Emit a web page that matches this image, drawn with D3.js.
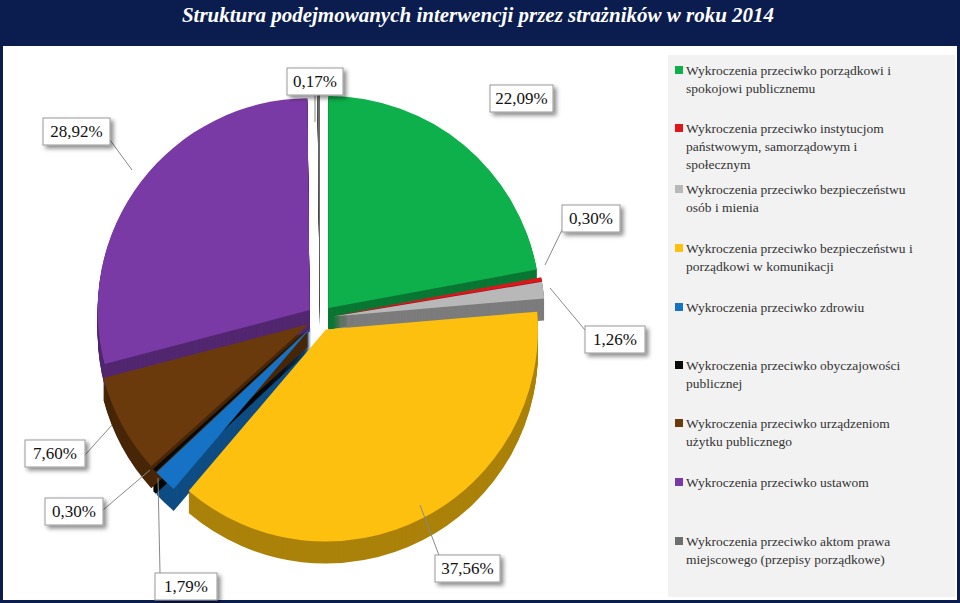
<!DOCTYPE html>
<html><head><meta charset="utf-8">
<script src="https://cdn.jsdelivr.net/npm/d3@7"></script>
<style>body{margin:0;background:#0b1d4f}</style>
</head><body>
<script>
// data
var categories = [
  "Wykroczenia przeciwko porządkowi i|spokojowi publicznemu",
  "Wykroczenia przeciwko instytucjom|państwowym, samorządowym i|społecznym",
  "Wykroczenia przeciwko bezpieczeństwu|osób i mienia",
  "Wykroczenia przeciwko bezpieczeństwu i|porządkowi w komunikacji",
  "Wykroczenia przeciwko zdrowiu",
  "Wykroczenia przeciwko obyczajowości|publicznej",
  "Wykroczenia przeciwko urządzeniom|użytku publicznego",
  "Wykroczenia przeciwko ustawom",
  "Wykroczenia przeciwko aktom prawa|miejscowego (przepisy porządkowe)"
];
var values = [22.09, 0.30, 1.26, 37.56, 1.79, 0.30, 7.60, 28.92, 0.17];
var labels = ["22,09%", "0,30%", "1,26%", "37,56%", "1,79%", "0,30%", "7,60%", "28,92%", "0,17%"];
var colors = ["#0db04b", "#e0141b", "#b8b8b8", "#fdc00f", "#1672c4", "#0a0a0a", "#6b3a0c", "#7a3aa6", "#6e6e6e"];
var legendY = [75, 133, 194, 253, 312, 370, 428, 487, 546];
// label box [x, y, w] and leader line target
var boxPos = [[490,85,63],[562,205,58],[585,326,60],[435,555,65],[155,573,62],[45,498,58],[25,440,60],[43,118,67],[287,68,56]];
var lineFrom = [null,[562,230],[585,330],[440,558],[160,573],[103,510],[85,455],[110,140],[315,95]];
var lineTo = [null,[545,265],[550,288],[420,505],[158,478],[150,470],[112,425],[132,170],[315,122]];

var svg = d3.select("body").append("svg").attr("width", 960).attr("height", 603);
svg.append("rect").attr("width",960).attr("height",603).attr("fill","#0b1d4f");
svg.append("text").attr("x",478).attr("y",22).attr("text-anchor","middle")
  .attr("fill","#fff").attr("font-family","Liberation Serif").attr("font-style","italic")
  .attr("font-weight","bold").attr("font-size",21).text("Struktura podejmowanych interwencji przez strażników w roku 2014");
svg.append("rect").attr("x",3).attr("y",46).attr("width",954).attr("height",554).attr("fill","#fff");
svg.append("rect").attr("x",668).attr("y",55).attr("width",287).attr("height",542).attr("fill","#f2f2f2");

var defs = svg.append("defs");
var f = defs.append("filter").attr("id","sh").attr("x","-20%").attr("y","-20%").attr("width","150%").attr("height","160%");
f.append("feDropShadow").attr("dx",3).attr("dy",3).attr("stdDeviation",2).attr("flood-opacity",0.45);

var cx = 320, cy = 318, r = 212, depth = 22, off = 13;
var pie = d3.pie().sort(null).value(function(d){ return d; })(values);
var arc = d3.arc().innerRadius(0).outerRadius(r);
var g = svg.append("g").attr("transform","translate("+cx+","+cy+")");

function shift(d){
  var a = (d.startAngle + d.endAngle)/2;
  return [Math.sin(a)*off, -Math.cos(a)*off];
}
// side walls
pie.forEach(function(d,i){
  var s = shift(d);
  var dark = d3.color(colors[i]).darker(1.1);
  for (var k = depth; k > 0; k--) {
    g.append("path").attr("d", arc(d)).attr("fill", dark)
      .attr("transform","translate("+s[0]+","+(s[1]+k)+")");
  }
});
// tops
pie.forEach(function(d,i){
  var s = shift(d);
  g.append("path").attr("d", arc(d)).attr("fill", colors[i])
    .attr("transform","translate("+s[0]+","+s[1]+")");
});

// leader lines
lineFrom.forEach(function(p,i){
  if(!p) return;
  svg.append("line").attr("x1",p[0]).attr("y1",p[1]).attr("x2",lineTo[i][0]).attr("y2",lineTo[i][1])
    .attr("stroke","#888").attr("stroke-width",1);
});
// label boxes
boxPos.forEach(function(b,i){
  svg.append("rect").attr("x",b[0]).attr("y",b[1]).attr("width",b[2]).attr("height",27)
    .attr("fill","#fff").attr("stroke","#999").attr("filter","url(#sh)");
  svg.append("text").attr("x",b[0]+b[2]/2).attr("y",b[1]+19).attr("text-anchor","middle")
    .attr("font-family","Liberation Serif").attr("font-size",17).attr("fill","#111").text(labels[i]);
});

// legend
categories.forEach(function(c,i){
  svg.append("rect").attr("x",675).attr("y",legendY[i]-9).attr("width",8).attr("height",8).attr("fill",colors[i]);
  c.split("|").forEach(function(line,j){
    svg.append("text").attr("x",686).attr("y",legendY[i]+j*18).attr("font-family","Liberation Serif")
      .attr("font-size",13.5).attr("fill","#333").text(line);
  });
});
</script>
</body></html>
